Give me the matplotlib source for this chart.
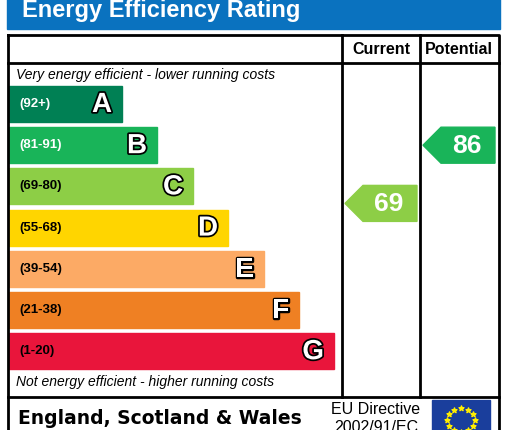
import matplotlib
matplotlib.use("Agg")
import matplotlib.pyplot as plt
from matplotlib.patches import Rectangle, Polygon
import matplotlib.patheffects as pe
import numpy as np

letters = ["A", "B", "C", "D", "E", "F", "G"]
ranges = ["(92+)", "(81-91)", "(69-80)", "(55-68)", "(39-54)", "(21-38)", "(1-20)"]
colors = ["#008054", "#19b459", "#8dce46", "#ffd500", "#fcaa65", "#ef8023", "#e9153b"]
bar_right = [122, 157, 193, 228, 264, 299, 334]
current = 69
current_band = 2
potential = 86
potential_band = 1

fig = plt.figure(figsize=(5.09, 4.30), dpi=100)
ax = fig.add_axes([0, 0, 1, 1])
ax.set_xlim(0, 509)
ax.set_ylim(430, 0)
ax.axis("off")

ax.add_patch(Rectangle((7, -5), 493, 34, color="#0a72bf"))
ax.text(22, 11, "Energy Efficiency Rating", color="white", fontsize=17, fontweight="bold", va="center", family="Liberation Sans")

lw = 2
ax.plot([8, 499, 499, 8, 8], [35, 35, 440, 440, 35], color="black", lw=lw)
ax.plot([8, 499], [63, 63], color="black", lw=lw)
ax.plot([8, 499], [397, 397], color="black", lw=lw)
ax.plot([342, 342], [35, 397], color="black", lw=lw)
ax.plot([420, 420], [35, 397], color="black", lw=lw)
ax.text(381, 49, "Current", fontsize=11.5, fontweight="bold", ha="center", va="center", family="Liberation Sans")
ax.text(459, 49, "Potential", fontsize=11.5, fontweight="bold", ha="center", va="center", family="Liberation Sans")
ax.text(16, 75, "Very energy efficient - lower running costs", fontsize=10, style="italic", va="center", family="Liberation Sans")
ax.text(16, 382, "Not energy efficient - higher running costs", fontsize=10, style="italic", va="center", family="Liberation Sans")

top0, h, step = 86, 36, 41.2
for i, (l, r, c, xr) in enumerate(zip(letters, ranges, colors, bar_right)):
    y = top0 + i * step
    ax.add_patch(Rectangle((9, y), xr - 9, h, color=c))
    ax.text(19, y + h / 2, r, fontsize=9.5, fontweight="bold", va="center",
            color="white" if i < 2 else "black", family="Liberation Sans")
    ax.text(xr - 10, y + h / 2 + 1, l, fontsize=20, fontweight="bold", va="center", ha="right",
            color="white", family="Liberation Sans",
            path_effects=[pe.withStroke(linewidth=2.5, foreground="black")])

def arrow(x0, x1, band, val, off):
    y = top0 + band * step + off
    pts = [(x0, y + h / 2), (x0 + 18, y), (x1, y), (x1, y + h), (x0 + 18, y + h)]
    ax.add_patch(Polygon(pts, color=colors[band]))
    ax.text(x0 + 44, y + h / 2 + 1, str(val), fontsize=19, fontweight="bold", color="white",
            ha="center", va="center", family="Liberation Sans")

arrow(345, 417, current_band, current, 17)
arrow(423, 495, potential_band, potential, 0)

ax.text(18, 418, "England, Scotland & Wales", fontsize=13.5, fontweight="bold", va="center", family="DejaVu Sans")
ax.text(376, 410, "EU Directive", fontsize=11.5, ha="center", va="center", family="Liberation Sans")
ax.text(376, 428, "2002/91/EC", fontsize=11.5, ha="center", va="center", family="Liberation Sans")
ax.add_patch(Rectangle((432, 400), 58, 35, color="#1a3e9c"))
ang = np.linspace(0, 2 * np.pi, 13)[:-1]
ax.scatter(461 + 14 * np.sin(ang), 420 - 12 * np.cos(ang), marker="*", s=14, color="#ffed00", zorder=5)

fig.savefig("out.png", dpi=100)
